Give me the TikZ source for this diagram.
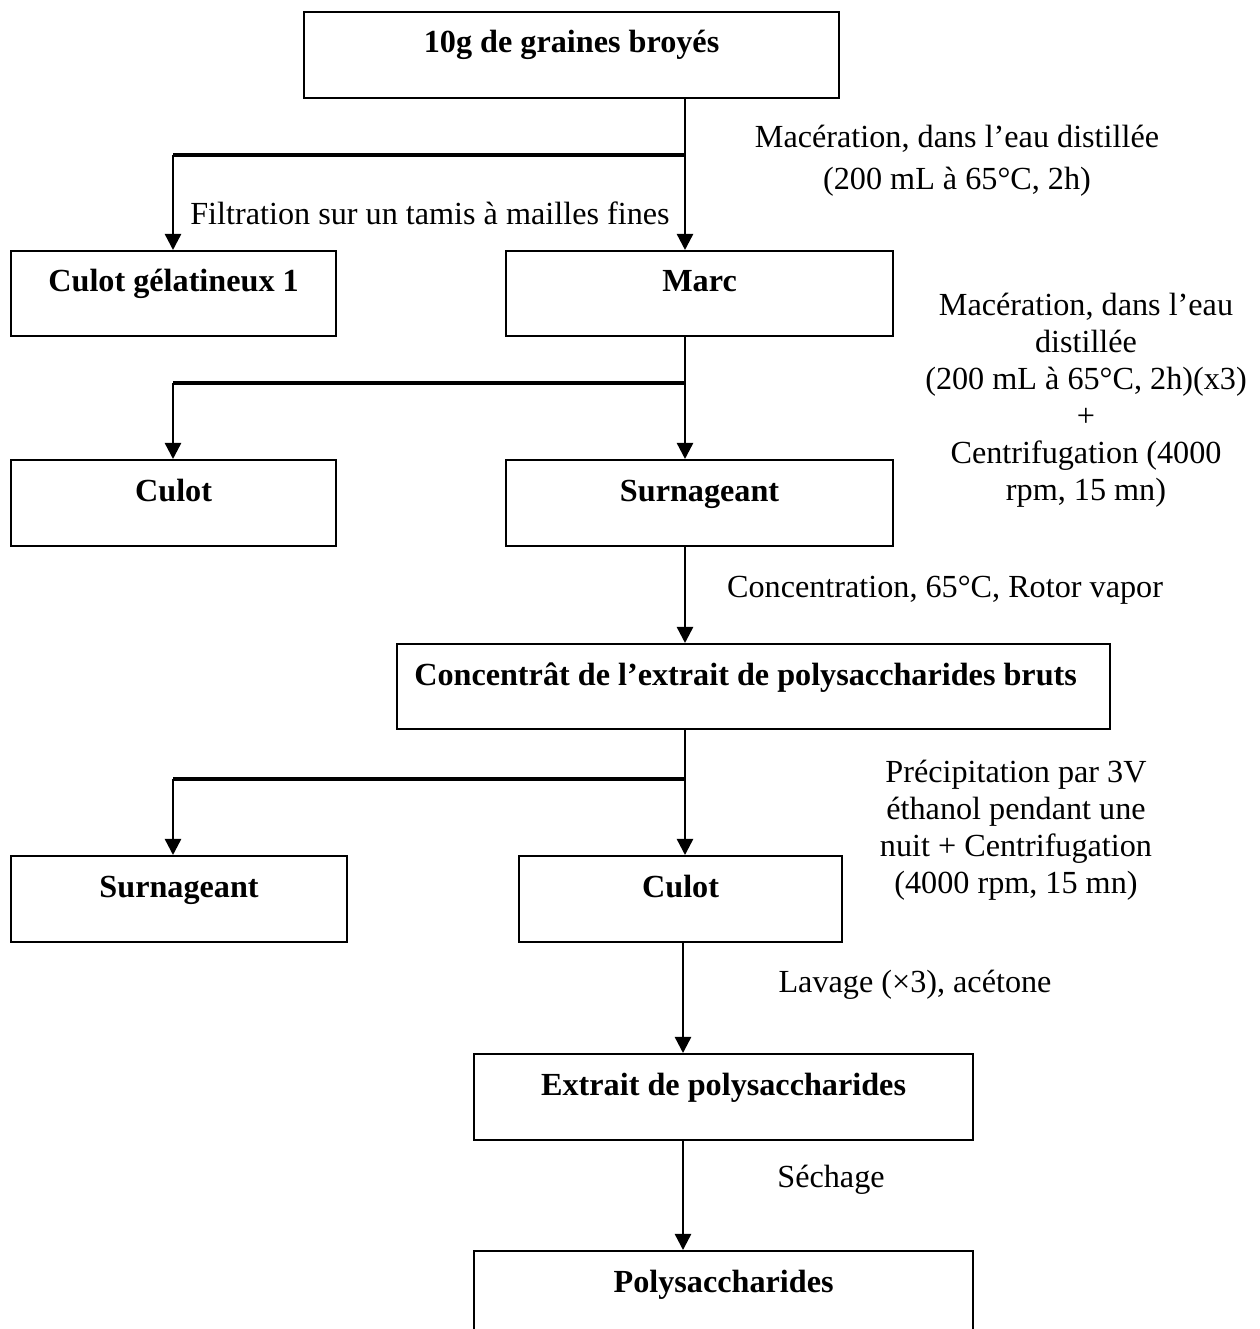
\documentclass[tikz,border=0pt]{standalone}
\usepackage{fontspec}
\setmainfont{Liberation Serif}
\usetikzlibrary{arrows.meta,calc}
\def\px{0.3727pt}
\begin{document}
\begin{tikzpicture}[x=0.3727pt,y=-0.3727pt,
  box/.style={draw, line width=0.8pt, inner sep=0pt, anchor=north west},
  ttl/.style={font=\fontsize{12}{13.8}\selectfont\bfseries, anchor=base, inner sep=0pt},
  lbl/.style={align=center, inner sep=0pt, font=\fontsize{12}{13.8}\selectfont},
  lblw/.style={align=center, inner sep=0pt, font=\fontsize{12}{15.65}\selectfont},
  arr/.style={line width=0.9pt, -{Triangle[length=6pt,width=6pt]}},
  bar/.style={line width=1.6pt},
]
\useasboundingbox[fill=white] (0,0) rectangle (1260,1329);

% boxes
\node[box, minimum width=535*\px, minimum height=86*\px] (b1) at (303,11) {};
\node[box, minimum width=325*\px, minimum height=85*\px] (b2) at (10,250) {};
\node[box, minimum width=387*\px, minimum height=85*\px] (b3) at (505,250) {};
\node[box, minimum width=325*\px, minimum height=86*\px] (b4) at (10,459) {};
\node[box, minimum width=387*\px, minimum height=86*\px] (b5) at (505,459) {};
\node[box, minimum width=713*\px, minimum height=85*\px] (b6) at (396,643) {};
\node[box, minimum width=336*\px, minimum height=86*\px] (b7) at (10,855) {};
\node[box, minimum width=323*\px, minimum height=86*\px] (b8) at (518,855) {};
\node[box, minimum width=499*\px, minimum height=86*\px] (b9) at (473,1053) {};
\node[box, minimum width=499*\px, minimum height=100*\px] (b10) at (473,1250) {};

% box titles
\node[ttl] (t1) at ($(b1.north)+(0,42)$) {10g de graines broyés};
\node[ttl] (t2) at ($(b2.north)+(0,42)$) {Culot gélatineux 1};
\node[ttl] (t3) at ($(b3.north)+(0,42)$) {Marc};
\node[ttl] (t4) at ($(b4.north)+(0,42)$) {Culot};
\node[ttl] (t5) at ($(b5.north)+(0,42)$) {Surnageant};
\node[ttl] (t6) at ($(b6.north)+(-8,42)$) {Concentrât de l’extrait de polysaccharides bruts};
\node[ttl] (t7) at ($(b7.north)+(0,42)$) {Surnageant};
\node[ttl] (t8) at ($(b8.north)+(0,42)$) {Culot};
\node[ttl] (t9) at ($(b9.north)+(0,42)$) {Extrait de polysaccharides};
\node[ttl] (t10) at ($(b10.north)+(0,42)$) {Polysaccharides};

% junctions
\coordinate (j1) at (685,155);
\coordinate (j1l) at (173,155);
\coordinate (j2) at (685,383);
\coordinate (j2l) at (173,383);
\coordinate (j3) at (685,779);
\coordinate (j3l) at (173,779);
\coordinate (j4) at (683,1000);

% connectors
\draw[arr] (b1.south -| j1) -- (b3.north -| j1);
\draw[bar] (j1) -- (j1l);
\draw[arr] (j1l) -- (b2.north -| j1l);

\draw[arr] (b3.south -| j2) -- (b5.north -| j2);
\draw[bar] (j2) -- (j2l);
\draw[arr] (j2l) -- (b4.north -| j2l);

\draw[arr] (b5.south -| j2) -- (b6.north -| j2);

\draw[arr] (b6.south -| j3) -- (b8.north -| j3);
\draw[bar] (j3) -- (j3l);
\draw[arr] (j3l) -- (b7.north -| j3l);

\draw[arr] (b8.south -| j4) -- (b9.north -| j4);
\draw[arr] (b9.south -| j4) -- (b10.north -| j4);

% step labels
\node[lblw] (l1) at (957,161) {Macération, dans l’eau distillée\\(200 mL à 65°C, 2h)};
\node[lbl] (l0) at (430,213) {Filtration sur un tamis à mailles fines};
\node[lbl] (l2) at (1086,400) {Macération, dans l’eau\\distillée\\(200 mL à 65°C, 2h)(x3)\\+\\Centrifugation (4000\\rpm, 15 mn)};
\node[lbl] (l3) at (945,590) {Concentration, 65°C, Rotor vapor};
\node[lbl] (l4) at (1016,830) {Précipitation par 3V\\éthanol pendant une\\nuit + Centrifugation\\(4000 rpm, 15 mn)};
\node[lbl] (l5) at (915,985) {Lavage (×3), acétone};
\node[lbl] (l6) at (831,1180) {Séchage};
\end{tikzpicture}
\end{document}
